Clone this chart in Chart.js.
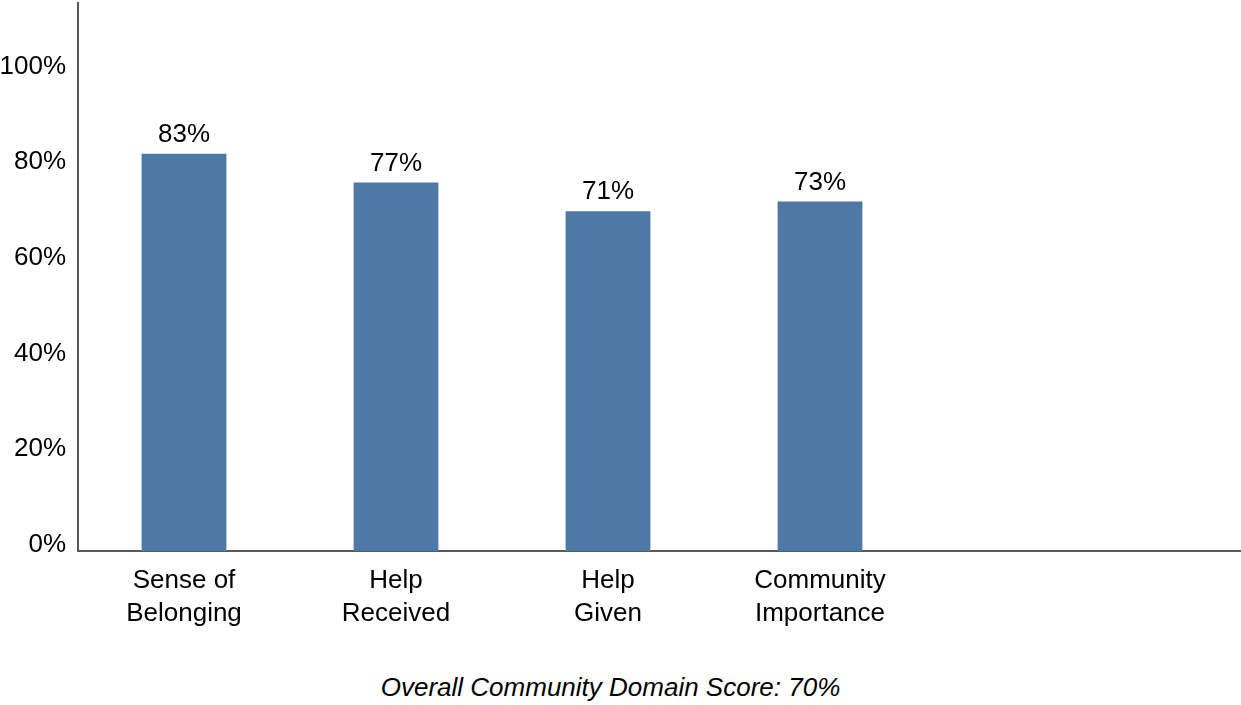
<!DOCTYPE html>
<html>
<head>
<meta charset="utf-8">
<title>Community Domain</title>
<script src="https://cdn.jsdelivr.net/npm/chart.js@4/dist/chart.umd.min.js"></script>
<style>
    html, body {
        margin: 0;
        padding: 0;
        background: #ffffff;
        overflow: hidden;
    }
    .chart-wrap {
        position: relative;
        width: 1350px;
        height: 655px;
    }
    .domain-score {
        position: absolute;
        left: 0;
        top: 672px;
        width: 1221px;
        text-align: center;
        font: italic 26px "Liberation Sans", Arial, sans-serif;
        color: #000000;
    }
</style>
</head>
<body>
<div class="chart-wrap">
    <canvas id="community-chart" width="1350" height="655"></canvas>
</div>
<div class="domain-score">Overall Community Domain Score: 70%</div>

<script>
// Domain items (the two trailing slots are left empty on purpose)
const categories = [
    ['Sense of', 'Belonging'],
    ['Help', 'Received'],
    ['Help', 'Given'],
    ['Community', 'Importance'],
    '',
    '',
];
const scores = [83, 77, 71, 73, null, null];
const yTicks = [0, 20, 40, 60, 80, 100];

const FONT = '"Liberation Sans", Arial, sans-serif';
const AXIS_COLOR = '#595959';
const BAR_COLOR = '#4e79a7';

// Percentage label above each bar
const barValueLabels = {
    id: 'barValueLabels',
    afterDatasetsDraw(chart) {
        const { ctx } = chart;
        const meta = chart.getDatasetMeta(0);
        ctx.save();
        ctx.font = `26px ${FONT}`;
        ctx.fillStyle = '#000000';
        ctx.textAlign = 'center';
        ctx.textBaseline = 'middle';
        meta.data.forEach((bar, i) => {
            const v = scores[i];
            if (v == null) return;
            ctx.fillText(`${v}%`, bar.x, bar.y - 19);
        });
        ctx.restore();
    },
};

new Chart(document.getElementById('community-chart').getContext('2d'), {
    type: 'bar',
    data: {
        labels: categories,
        datasets: [{
            data: scores,
            backgroundColor: BAR_COLOR,
            borderWidth: 0,
            barPercentage: 0.4,
            categoryPercentage: 1.0,
        }],
    },
    options: {
        responsive: false,
        animation: false,
        layout: { padding: { top: 3, left: 0, right: 0, bottom: 0 } },
        plugins: {
            legend: { display: false },
            tooltip: { enabled: false },
        },
        scales: {
            x: {
                grid: { display: false, drawTicks: false },
                border: { display: true, color: AXIS_COLOR, width: 2 },
                ticks: {
                    color: '#000000',
                    font: { family: FONT, size: 26, lineHeight: 1.27 },
                    padding: 13,
                    maxRotation: 0,
                    autoSkip: false,
                },
                afterFit: scale => { scale.height = 104; },
            },
            y: {
                min: 0,
                max: 114.5,
                grid: { display: false, drawTicks: false },
                border: { display: true, color: AXIS_COLOR, width: 2 },
                afterBuildTicks: scale => {
                    scale.ticks = yTicks.map(value => ({ value }));
                },
                ticks: {
                    color: '#000000',
                    font: { family: FONT, size: 26 },
                    padding: 12,
                    labelOffset: -6,
                    callback: value => `${value}%`,
                },
                afterFit: scale => {
                    scale.width = 78;
                    scale.paddingTop = 0;
                    scale.paddingBottom = 0;
                },
            },
        },
    },
    plugins: [barValueLabels],
});
</script>
</body>
</html>
